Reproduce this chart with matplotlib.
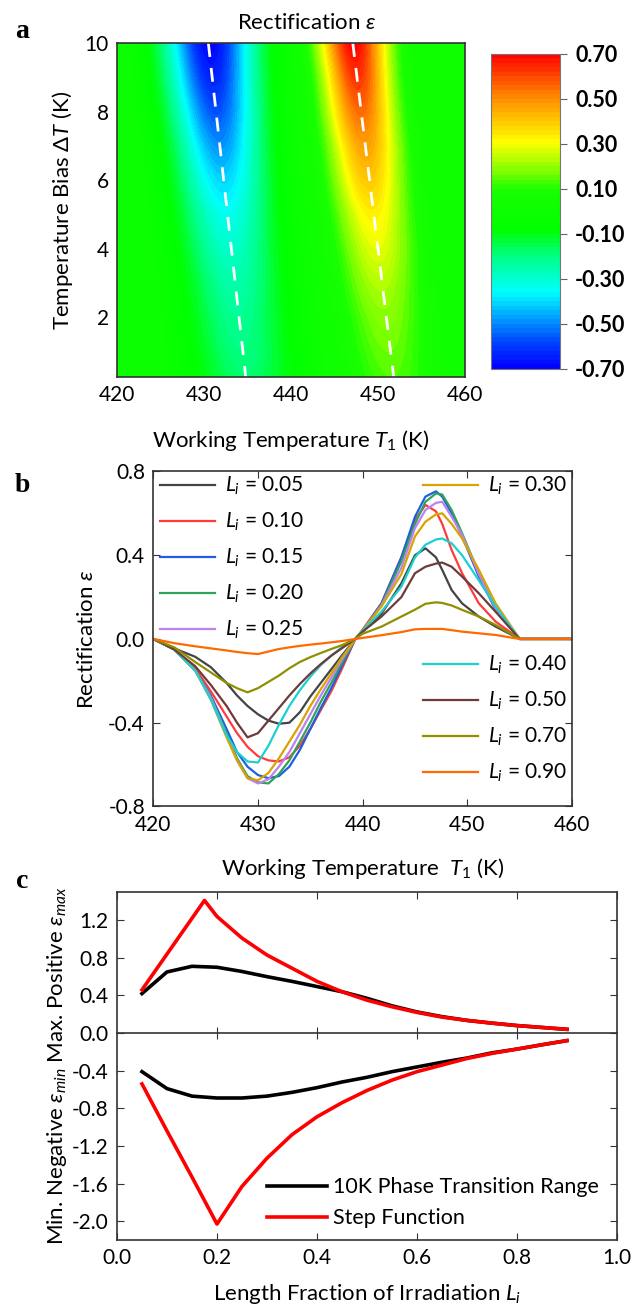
import numpy as np
import matplotlib
matplotlib.use('Agg')
import matplotlib.pyplot as plt
from matplotlib.colors import LinearSegmentedColormap

plt.rcParams['font.family'] = ['Lato', 'DejaVu Sans']
plt.rcParams['mathtext.fontset'] = 'custom'
plt.rcParams['mathtext.rm'] = 'Lato'
plt.rcParams['mathtext.it'] = 'Lato:italic'

# ---- panel a: rectification map, profile parameters read per row ----
dT_rows = [0.25, 1, 2, 3, 4, 5, 6, 7, 8, 9, 10]
trough_center = [434.8, 434.4, 433.9, 433.5, 433.0, 432.6, 432.2, 431.8, 431.4, 431.0, 430.7]
trough_depth = [-0.18, -0.20, -0.22, -0.25, -0.29, -0.34, -0.41, -0.49, -0.57, -0.64, -0.70]
trough_sigma = [4.2, 4.1, 4.0, 3.9, 3.8, 3.7, 3.6, 3.5, 3.5, 3.5, 3.5]
peak_center = [451.6, 451.2, 450.8, 450.3, 449.9, 449.4, 448.9, 448.5, 448.0, 447.6, 447.2]
peak_height = [0.14, 0.16, 0.19, 0.23, 0.28, 0.33, 0.40, 0.47, 0.55, 0.63, 0.70]
peak_sigma = [3.6, 3.5, 3.4, 3.3, 3.2, 3.1, 3.0, 2.9, 2.8, 2.7, 2.7]
dash_dT = [10, 0.25]
dash_left_T = [430.5, 434.8]
dash_right_T = [447.1, 451.8]
cbar_ticks = [-0.7, -0.5, -0.3, -0.1, 0.1, 0.3, 0.5, 0.7]

# ---- panel b: rectification curves ----
T_b = [420, 422, 424, 425.5, 427, 428, 429, 430, 431, 432, 433, 434, 435, 436, 437, 438,
       439.3, 440, 441.8, 443.7, 445, 446, 447, 447.6, 448.5, 449.5, 451.1, 452.7, 455, 460]
curves_b = {
    '0.05': [0, -0.045, -0.085, -0.135, -0.21, -0.27, -0.32, -0.36, -0.39, -0.405, -0.40, -0.35, -0.275, -0.21, -0.145, -0.08,
             0, 0.035, 0.12, 0.266, 0.40, 0.433, 0.39, 0.33, 0.234, 0.17, 0.107, 0.059, 0, 0],
    '0.10': [0, -0.05, -0.14, -0.25, -0.37, -0.45, -0.515, -0.56, -0.58, -0.585, -0.565, -0.51, -0.43, -0.34, -0.25, -0.145,
             0, 0.045, 0.17, 0.39, 0.57, 0.64, 0.61, 0.55, 0.425, 0.314, 0.17, 0.083, 0, 0],
    '0.15': [0, -0.05, -0.15, -0.27, -0.43, -0.54, -0.61, -0.65, -0.665, -0.655, -0.61, -0.53, -0.43, -0.33, -0.235, -0.13,
             0, 0.04, 0.17, 0.39, 0.584, 0.68, 0.705, 0.68, 0.60, 0.49, 0.298, 0.14, 0, 0],
    '0.20': [0, -0.05, -0.15, -0.28, -0.45, -0.57, -0.655, -0.685, -0.69, -0.645, -0.58, -0.49, -0.40, -0.30, -0.21, -0.115,
             0, 0.04, 0.165, 0.37, 0.55, 0.655, 0.695, 0.69, 0.616, 0.505, 0.314, 0.146, 0, 0],
    '0.25': [0, -0.05, -0.15, -0.28, -0.46, -0.58, -0.665, -0.69, -0.67, -0.61, -0.54, -0.45, -0.36, -0.27, -0.185, -0.10,
             0, 0.04, 0.16, 0.34, 0.53, 0.616, 0.65, 0.655, 0.584, 0.497, 0.31, 0.146, 0, 0],
    '0.30': [0, -0.05, -0.15, -0.29, -0.47, -0.58, -0.665, -0.675, -0.64, -0.57, -0.49, -0.41, -0.32, -0.24, -0.165, -0.09,
             0, 0.04, 0.155, 0.31, 0.49, 0.56, 0.595, 0.60, 0.55, 0.48, 0.33, 0.17, 0, 0],
    '0.40': [0, -0.05, -0.15, -0.29, -0.46, -0.54, -0.585, -0.59, -0.51, -0.41, -0.32, -0.245, -0.18, -0.125, -0.08, -0.04,
             0, 0.04, 0.13, 0.25, 0.39, 0.45, 0.475, 0.48, 0.457, 0.40, 0.28, 0.154, 0, 0],
    '0.50': [0, -0.05, -0.13, -0.22, -0.32, -0.40, -0.47, -0.45, -0.39, -0.33, -0.27, -0.215, -0.165, -0.12, -0.08, -0.045,
             0, 0.035, 0.107, 0.20, 0.314, 0.345, 0.36, 0.365, 0.345, 0.298, 0.218, 0.13, 0, 0],
    '0.70': [0, -0.04, -0.11, -0.16, -0.21, -0.235, -0.255, -0.235, -0.205, -0.175, -0.14, -0.11, -0.087, -0.067, -0.048, -0.03,
             0, 0.025, 0.059, 0.107, 0.14, 0.168, 0.175, 0.172, 0.16, 0.139, 0.107, 0.067, 0, 0],
    '0.90': [0, -0.02, -0.035, -0.045, -0.055, -0.062, -0.068, -0.072, -0.06, -0.048, -0.04, -0.033, -0.027, -0.022, -0.016, -0.01,
             0, 0.005, 0.018, 0.033, 0.046, 0.048, 0.048, 0.048, 0.042, 0.035, 0.027, 0.019, 0, 0],
}
colors_b = {'0.05': '#444444', '0.10': '#ff3b3b', '0.15': '#1f5fe0', '0.20': '#2ea35a', '0.25': '#bf80f0',
            '0.30': '#d9a400', '0.40': '#1ccfd0', '0.50': '#6e3b3b', '0.70': '#8f9000', '0.90': '#ff6a00'}

# ---- panel c: max / min rectification vs length fraction ----
L_black = [0.05, 0.1, 0.15, 0.2, 0.25, 0.3, 0.35, 0.4, 0.45, 0.5, 0.55, 0.6, 0.65, 0.7, 0.75, 0.8, 0.85, 0.9]
max_black = [0.42, 0.65, 0.71, 0.70, 0.655, 0.60, 0.55, 0.495, 0.44, 0.37, 0.29, 0.225, 0.175, 0.135, 0.106, 0.08, 0.06, 0.04]
min_black = [-0.41, -0.59, -0.67, -0.69, -0.69, -0.67, -0.63, -0.58, -0.52, -0.47, -0.41, -0.36, -0.31, -0.265, -0.21, -0.17, -0.124, -0.08]
L_red_max = [0.05, 0.1, 0.15, 0.175, 0.2, 0.25, 0.3, 0.35, 0.4, 0.45, 0.5, 0.55, 0.6, 0.65, 0.7, 0.75, 0.8, 0.85, 0.9]
max_red = [0.46, 0.84, 1.22, 1.41, 1.24, 1.01, 0.83, 0.69, 0.55, 0.44, 0.35, 0.28, 0.22, 0.17, 0.135, 0.106, 0.08, 0.06, 0.04]
L_red_min = [0.05, 0.1, 0.15, 0.2, 0.25, 0.3, 0.35, 0.4, 0.45, 0.5, 0.55, 0.6, 0.65, 0.7, 0.75, 0.8, 0.85, 0.9]
min_red = [-0.54, -1.04, -1.53, -2.03, -1.63, -1.33, -1.08, -0.89, -0.74, -0.61, -0.50, -0.41, -0.34, -0.27, -0.216, -0.17, -0.124, -0.08]

fig = plt.figure(figsize=(6.34, 13.06), dpi=100)
spine_col = '#333333'
tick_fs = 15
lab_fs = 16

# ---------------- panel a ----------------
ax_a = fig.add_axes([0.1845, 0.7113, 0.549, 0.2557])
T_fine = np.linspace(420, 460, 401)
Z = np.array([d * np.exp(-(T_fine - c) ** 2 / (2 * s ** 2)) + h * np.exp(-(T_fine - pc) ** 2 / (2 * ps ** 2))
              for d, c, s, h, pc, ps in zip(trough_depth, trough_center, trough_sigma,
                                            peak_height, peak_center, peak_sigma)])
Z = np.clip(Z, -0.699, 0.699)
cmap = LinearSegmentedColormap.from_list('rect', [
    (0.0, (0.0, 0.0, 1.0)), (0.08, (0.0, 0.25, 1.0)), (0.243, (0.0, 1.0, 1.0)),
    (0.36, (0.0, 1.0, 0.5)), (0.44, (0.0, 1.0, 0.0)), (0.57, (0.1, 1.0, 0.0)),
    (0.62, (0.45, 1.0, 0.0)), (0.72, (1.0, 1.0, 0.0)), (0.86, (1.0, 0.55, 0.0)),
    (1.0, (1.0, 0.0, 0.0))])
levels = np.linspace(-0.7, 0.7, 71)
cf = ax_a.contourf(T_fine, dT_rows, Z, levels=levels, cmap=cmap)
ax_a.plot(dash_left_T, dash_dT, color='white', ls=(0, (5, 4)), lw=2)
ax_a.plot(dash_right_T, dash_dT, color='white', ls=(0, (5, 4)), lw=2)
ax_a.set_xlim(420, 460)
ax_a.set_ylim(0.25, 10)
ax_a.set_xticks([420, 430, 440, 450, 460])
ax_a.set_yticks([2, 4, 6, 8, 10])
ax_a.tick_params(length=0, labelsize=tick_fs, pad=6)
ax_a.set_ylabel(r'Temperature Bias $\Delta T$ (K)', fontsize=lab_fs, labelpad=7)
ax_a.set_xlabel(r'Working Temperature $T_1$ (K)', fontsize=lab_fs, labelpad=16)
for s in ax_a.spines.values():
    s.set_color(spine_col)
    s.set_linewidth(1.2)
fig.text(307 / 634, 1 - 23 / 1306, r'Rectification $\varepsilon$', ha='center', va='center', fontsize=lab_fs)

cax = fig.add_axes([0.7744, 0.7175, 0.1088, 0.2412])
cb = fig.colorbar(cf, cax=cax, ticks=cbar_ticks)
cb.ax.set_yticklabels(['%.2f' % t for t in cbar_ticks], fontweight='bold', fontsize=15.5)
cb.ax.tick_params(direction='out', length=5, color='#666666', pad=6)
cb.outline.set_edgecolor('#777777')

# ---------------- panel b ----------------
ax_b = fig.add_axes([0.2418, 0.3825, 0.6604, 0.2565])
lines = {}
for key, vals in curves_b.items():
    lines[key], = ax_b.plot(T_b, vals, color=colors_b[key], lw=1.6, label=r'$L_i$ = ' + key)
ax_b.set_xlim(420, 460)
ax_b.set_ylim(-0.8, 0.8)
ax_b.set_xticks([420, 430, 440, 450, 460])
ax_b.set_yticks([-0.8, -0.4, 0.0, 0.4, 0.8])
ax_b.yaxis.set_major_formatter(matplotlib.ticker.FormatStrFormatter('%.1f'))
ax_b.tick_params(direction='in', top=True, right=True, length=5, labelsize=tick_fs, pad=6, color=spine_col)
ax_b.set_ylabel(r'Rectification $\varepsilon$', fontsize=lab_fs, labelpad=8)
ax_b.set_xlabel(r'Working Temperature  $T_1$ (K)', fontsize=lab_fs, labelpad=15)
for s in ax_b.spines.values():
    s.set_color(spine_col)
    s.set_linewidth(1.2)

leg_kw = dict(frameon=False, fontsize=15, handlelength=2.65, handletextpad=0.45,
              labelspacing=0.66, borderaxespad=0, borderpad=0)
g1 = ['0.05', '0.10', '0.15', '0.20', '0.25']
g2 = ['0.30']
g3 = ['0.40', '0.50', '0.70', '0.90']
l1 = ax_b.legend([lines[k] for k in g1], [lines[k].get_label() for k in g1],
                 loc='upper left', bbox_to_anchor=(0.016, 0.99), **leg_kw)
ax_b.add_artist(l1)
l2 = ax_b.legend([lines[k] for k in g2], [lines[k].get_label() for k in g2],
                 loc='upper left', bbox_to_anchor=(0.644, 0.99), **leg_kw)
ax_b.add_artist(l2)
ax_b.legend([lines[k] for k in g3], [lines[k].get_label() for k in g3],
            loc='upper left', bbox_to_anchor=(0.644, 0.455), **leg_kw)

# ---------------- panel c ----------------
ax_c = fig.add_axes([0.1845, 0.0505, 0.7886, 0.2665])
ax_c.plot(L_black, max_black, color='black', lw=2.6, label='10K Phase Transition Range', zorder=2)
ax_c.plot(L_red_max, max_red, color='#ff0000', lw=2.6, label='Step Function', zorder=3)
ax_c.plot(L_black, min_black, color='black', lw=2.6, zorder=2)
ax_c.plot(L_red_min, min_red, color='#ff0000', lw=2.6, zorder=3)
ax_c.set_xlim(0, 1.0)
ax_c.set_ylim(-2.2, 1.5)
ax_c.set_xticks([0, 0.2, 0.4, 0.6, 0.8, 1.0])
ax_c.set_yticks([-2.0, -1.6, -1.2, -0.8, -0.4, 0.0, 0.4, 0.8, 1.2])
ax_c.xaxis.set_major_formatter(matplotlib.ticker.FormatStrFormatter('%.1f'))
ax_c.yaxis.set_major_formatter(matplotlib.ticker.FormatStrFormatter('%.1f'))
ax_c.tick_params(direction='in', top=True, right=True, length=5, labelsize=tick_fs, pad=6, color=spine_col)
sec = ax_c.secondary_xaxis(2.2 / 3.7)
sec.set_xticks([0.2, 0.4, 0.6, 0.8])
sec.tick_params(direction='inout', length=8, labeltop=False, labelbottom=False, color=spine_col)
sec.spines['top'].set_color(spine_col)
sec.spines['top'].set_linewidth(1.2)
ax_c.set_ylabel(r'Min. Negative $\varepsilon_{min}$ Max. Positive $\varepsilon_{max}$', fontsize=lab_fs, labelpad=2)
ax_c.set_xlabel(r'Length Fraction of Irradiation $L_i$', fontsize=lab_fs, labelpad=10)
for s in ax_c.spines.values():
    s.set_color(spine_col)
    s.set_linewidth(1.2)
ax_c.legend(loc='upper left', bbox_to_anchor=(0.30, 0.18), frameon=False, fontsize=15.5,
            handlelength=2.8, handletextpad=0.25, labelspacing=0.5, borderaxespad=0, borderpad=0)

# panel letters
for lbl, y in [('a', 32), ('b', 485), ('c', 882)]:
    fig.text(22 / 634, 1 - y / 1306, lbl, fontsize=20, fontweight='bold',
             family='Liberation Serif', ha='center', va='center')

fig.savefig('out.png', dpi=100)
